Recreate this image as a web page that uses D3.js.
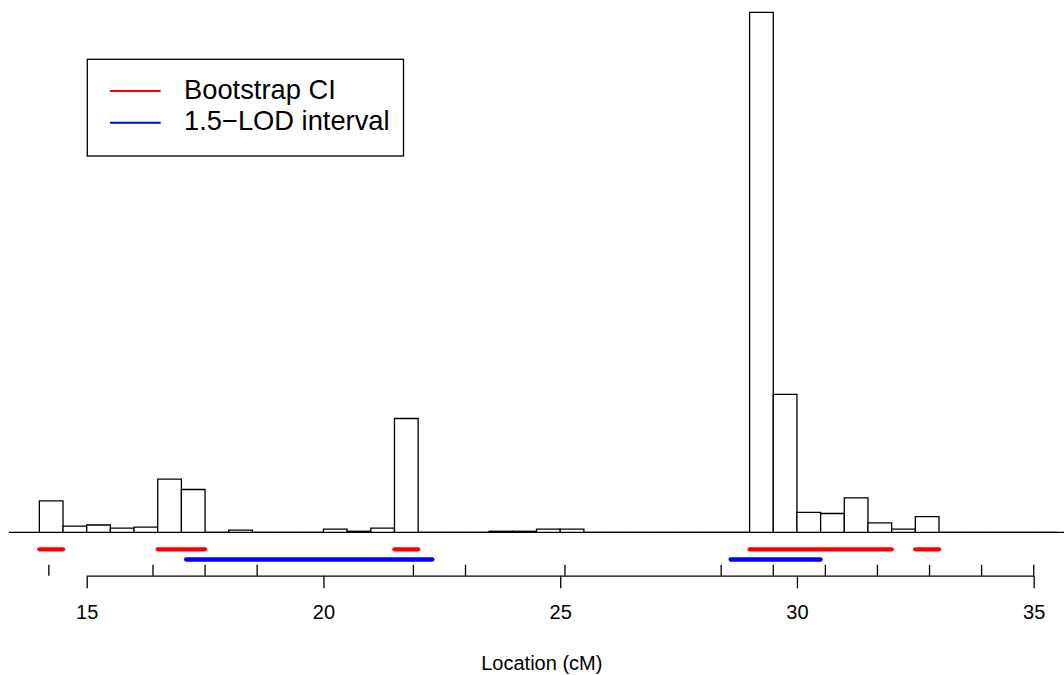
<!DOCTYPE html>
<html>
<head>
<meta charset="utf-8">
<script src="https://cdn.jsdelivr.net/npm/d3@7"></script>
<style>
  body { margin: 0; background: #fff; }
  svg text { font-family: "Liberation Sans", Arial, Helvetica, sans-serif; }
</style>
</head>
<body>
<div id="chart"></div>
<script>
// histogram of bootstrap QTL locations, bins of 0.5 cM starting at 14 cM
var binStart = 14, binWidth = 0.5;
var binCounts = [30, 6, 7, 4, 5, 51, 41, 0, 2, 0, 0, 0, 3, 1, 4, 109, 0, 0, 0, 1, 1, 3, 3,
                 0, 0, 0, 0, 0, 0, 0, 498, 132, 19, 18, 33, 9, 3, 15, 0, 0, 0, 0, 0];

// interval segments (cM)
var bootLo = [14.0, 16.5, 21.5, 29.0, 32.5];
var bootHi = [14.5, 17.5, 22.0, 32.0, 33.0];
var lodLo = [17.1, 28.6];
var lodHi = [22.3, 30.5];

// marker positions (rug)
var markers = [14.2, 16.4, 17.5, 18.6, 21.9, 23.0, 25.1, 28.4, 29.5, 30.6, 31.7, 32.8, 33.9, 35.0];

var xTicks = [15, 20, 25, 30, 35];
var legendLabels = ["Bootstrap CI", "1.5\u2212LOD interval"];
var legendColours = ["#ff0000", "#0000ff"];

var WIDTH = 1064, HEIGHT = 675;

var svg = d3.select("#chart").append("svg")
    .attr("width", WIDTH)
    .attr("height", HEIGHT);

var x = d3.scaleLinear().domain([15, 35]).range([86.7, 1033.7]);
var y = d3.scaleLinear().domain([0, 498]).range([532.3, 12.3]);

// bars (zero-height ones still draw as a line on the baseline, like R)
var bins = binCounts.map(function (c, i) {
    return { x0: binStart + i * binWidth, x1: binStart + (i + 1) * binWidth, n: c };
});

svg.append("line")
    .attr("x1", 9).attr("x2", WIDTH)
    .attr("y1", y(0)).attr("y2", y(0))
    .attr("stroke", "#000").attr("stroke-width", 1.3);

svg.selectAll("path.bar")
    .data(bins)
    .enter().append("path")
    .attr("class", "bar")
    .attr("d", function (d) {
        return "M" + x(d.x0) + "," + y(0) + "V" + y(d.n) + "H" + x(d.x1) + "V" + y(0) + "Z";
    })
    .attr("fill", "#fff")
    .attr("stroke", "#000")
    .attr("stroke-width", 1.3);

// bootstrap CI segments
svg.selectAll("line.boot")
    .data(d3.zip(bootLo, bootHi))
    .enter().append("line")
    .attr("class", "boot")
    .attr("x1", function (d) { return x(d[0]); })
    .attr("x2", function (d) { return x(d[1]); })
    .attr("y1", 549.3).attr("y2", 549.3)
    .attr("stroke", legendColours[0])
    .attr("stroke-width", 4.3)
    .attr("stroke-linecap", "round");

// LOD interval segments
svg.selectAll("line.lod")
    .data(d3.zip(lodLo, lodHi))
    .enter().append("line")
    .attr("class", "lod")
    .attr("x1", function (d) { return x(d[0]); })
    .attr("x2", function (d) { return x(d[1]); })
    .attr("y1", 559.5).attr("y2", 559.5)
    .attr("stroke", legendColours[1])
    .attr("stroke-width", 4.3)
    .attr("stroke-linecap", "round");

// marker rug
svg.selectAll("line.marker")
    .data(markers)
    .enter().append("line")
    .attr("class", "marker")
    .attr("x1", function (d) { return x(d); })
    .attr("x2", function (d) { return x(d); })
    .attr("y1", 564.8).attr("y2", 575.7)
    .attr("stroke", "#000").attr("stroke-width", 1.3);

// x axis
var xAxis = d3.axisBottom(x)
    .tickValues(xTicks)
    .tickSizeInner(12.6)
    .tickSizeOuter(0)
    .tickPadding(16.7)
    .tickFormat(d3.format("d"));

var gx = svg.append("g")
    .attr("transform", "translate(0,575.7)")
    .call(xAxis);
gx.select(".domain").attr("stroke-width", 1.3);
gx.selectAll(".tick line").attr("stroke-width", 1.3);
gx.selectAll(".tick text")
    .attr("font-size", 20)
    .attr("font-family", "Liberation Sans, Arial, sans-serif")
    .attr("fill", "#000");

svg.append("text")
    .attr("x", 541.8).attr("y", 670)
    .attr("text-anchor", "middle")
    .attr("font-size", 20)
    .text("Location (cM)");

// legend
var legend = svg.append("g");
legend.append("rect")
    .attr("x", 87.3).attr("y", 59.3)
    .attr("width", 316.2).attr("height", 96.7)
    .attr("fill", "#fff")
    .attr("stroke", "#000").attr("stroke-width", 1.3);

legendLabels.forEach(function (lab, i) {
    var ly = 91 + i * 31.7;
    legend.append("line")
        .attr("x1", 110).attr("x2", 160.7)
        .attr("y1", ly).attr("y2", ly)
        .attr("stroke", legendColours[i])
        .attr("stroke-width", 2);
    legend.append("text")
        .attr("x", 184)
        .attr("y", ly + 7.6)
        .attr("font-size", 27.3)
        .text(lab);
});
</script>
</body>
</html>
